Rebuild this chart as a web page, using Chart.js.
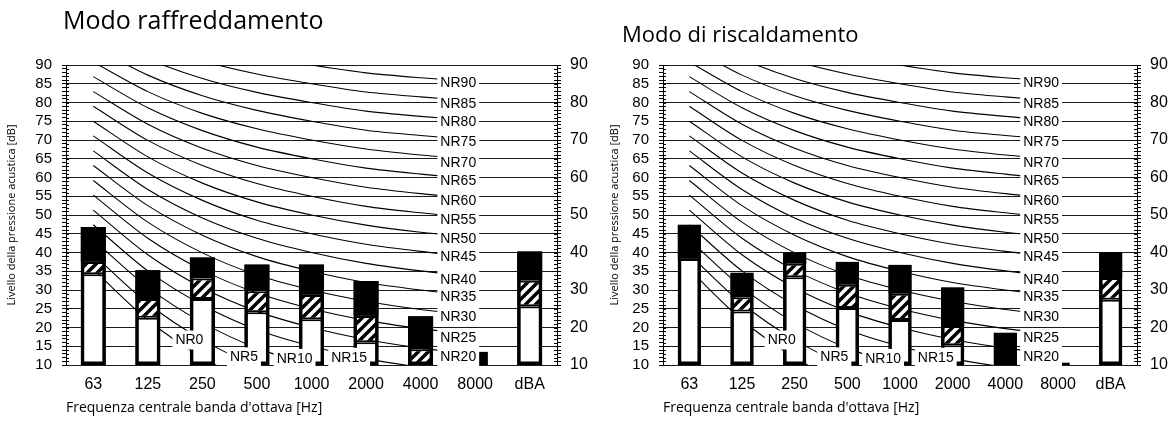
<!DOCTYPE html>
<html>
<head>
<meta charset="utf-8">
<script src="https://cdn.jsdelivr.net/npm/chart.js@4.4.1/dist/chart.umd.min.js"></script>
<style>
body { margin: 0; background: #fff; width: 1173px; height: 421px; position: relative; overflow: hidden; }
.panel { position: absolute; top: 0; height: 421px; }
#left { left: 0; width: 600px; }
#right { left: 590px; width: 583px; }
</style>
</head>
<body>
<div class="panel" id="left"><canvas id="cool"></canvas></div>
<div class="panel" id="right"><canvas id="heat"></canvas></div>
<script>
// Octave band categories
const categories = ['63', '125', '250', '500', '1000', '2000', '4000', '8000', 'dBA'];

// Cooling mode: top of white part, top of hatched part, total level [dB]
const coolWhite = [34.2, 22.6, 27.6, 24.1, 22.2, 16.1, 10, 10, 25.7];
const coolHatch = [37.5, 27.6, 33.1, 29.7, 28.7, 23.1, 14.2, 10, 32.5];
const coolTotal = [46.8, 35.3, 38.7, 36.8, 36.8, 32.4, 23.0, 13.5, 40.3];

// Heating mode
const heatWhite = [38.3, 24.3, 33.4, 25.2, 22.0, 15.3, 10, 10, 27.4];
const heatHatch = [38.3, 28.1, 37.0, 31.4, 29.0, 20.4, 10, 10, 33.2];
const heatTotal = [47.4, 34.6, 40.0, 37.5, 36.7, 30.7, 18.6, 10.6, 40.1];

// NR curves, 63 Hz .. 8000 Hz
const NR0  = [35.5, 22.0, 12.0, 4.8, 0, -3.5, -6.1, -8.0];
const NR5  = [39.5, 26.4, 16.7, 9.7, 5, 1.6, -1.0, -2.8];
const NR10 = [43.4, 30.7, 21.3, 14.5, 10, 6.7, 4.2, 2.4];
const NR15 = [47.4, 35.1, 26.0, 19.4, 15, 11.7, 9.4, 7.6];
const NR20 = [51.3, 39.4, 30.6, 24.3, 20, 16.8, 14.5, 12.8];
const NR25 = [55.3, 43.8, 35.3, 29.2, 25, 21.9, 19.7, 18.0];
const NR30 = [59.2, 48.1, 39.9, 34.0, 30, 27.0, 24.8, 23.2];
const NR35 = [63.2, 52.5, 44.6, 38.9, 35, 32.0, 30.0, 28.4];
const NR40 = [67.1, 56.8, 49.2, 43.8, 40, 37.1, 35.1, 33.6];
const NR45 = [71.1, 61.2, 53.9, 48.6, 45, 42.2, 40.3, 38.8];
const NR50 = [75.0, 65.5, 58.5, 53.5, 50, 47.3, 45.4, 44.0];
const NR55 = [79.0, 69.9, 63.2, 58.4, 55, 52.3, 50.6, 49.2];
const NR60 = [82.9, 74.2, 67.8, 63.2, 60, 57.4, 55.7, 54.4];
const NR65 = [86.9, 78.6, 72.5, 68.1, 65, 62.5, 60.9, 59.6];
const NR70 = [90.8, 82.9, 77.1, 73.0, 70, 67.6, 66.0, 64.8];
const NR75 = [94.8, 87.3, 81.8, 77.9, 75, 72.6, 71.2, 70.0];
const NR80 = [98.7, 91.6, 86.4, 82.7, 80, 77.7, 76.3, 75.2];
const NR85 = [102.7, 96.0, 91.1, 87.6, 85, 82.8, 81.5, 80.4];
const NR90 = [106.6, 100.3, 95.7, 92.5, 90, 87.9, 86.6, 85.6];
const nrCurves = [NR0, NR5, NR10, NR15, NR20, NR25, NR30, NR35, NR40, NR45,
                  NR50, NR55, NR60, NR65, NR70, NR75, NR80, NR85, NR90];

// NR labels: text, category the label sits left of, and level [dB]
const nrNames  = ['NR0', 'NR5', 'NR10', 'NR15', 'NR20', 'NR25', 'NR30', 'NR35', 'NR40', 'NR45',
                  'NR50', 'NR55', 'NR60', 'NR65', 'NR70', 'NR75', 'NR80', 'NR85', 'NR90'];
const nrAnchor = [2, 3, 4, 5, 7, 7, 7, 7, 7, 7, 7, 7, 7, 7, 7, 7, 7, 7, 7];
const nrLabelDb = [16.8, 12.3, 11.9, 12.2, 12.4, 17.3, 23.0, 28.4, 32.9, 38.9,
                   43.7, 49.0, 54.0, 59.2, 64.0, 69.8, 74.9, 79.8, 85.4];

const tickFont = '"Liberation Sans", Arial, sans-serif';
const textFont = '"Open Sans", sans-serif';

// Diagonal hatch used for the middle part of each bar
function makeHatch() {
    const c = document.createElement('canvas');
    c.width = c.height = 10;
    const g = c.getContext('2d');
    g.fillStyle = '#fff';
    g.fillRect(0, 0, 10, 10);
    g.strokeStyle = '#000';
    g.lineWidth = 3.5;
    g.beginPath();
    g.moveTo(-2, 12); g.lineTo(12, -2);
    g.moveTo(-2, 2); g.lineTo(2, -2);
    g.moveTo(8, 12); g.lineTo(12, 8);
    g.stroke();
    return g.createPattern(c, 'repeat');
}

// Draw the white-boxed NR labels over everything
const nrLabels = {
    id: 'nrLabels',
    afterDatasetsDraw(chart) {
        const {ctx, scales: {x, y}} = chart;
        ctx.save();
        ctx.font = '14px ' + tickFont;
        ctx.textAlign = 'right';
        ctx.textBaseline = 'middle';
        nrNames.forEach((t, i) => {
            const px = x.getPixelForValue(nrAnchor[i]) + 1;
            const py = y.getPixelForValue(nrLabelDb[i]);
            const w = ctx.measureText(t).width;
            ctx.fillStyle = '#fff';
            ctx.fillRect(px - w - 3, py - 9, w + 6, 19);
            ctx.fillStyle = '#000';
            ctx.fillText(t, px, py + 1);
        });
        ctx.restore();
    }
};

// Small tick marks on the inner side of both value axes
const innerTicks = {
    id: 'innerTicks',
    afterDraw(chart) {
        const {ctx, chartArea: a, scales: {y}} = chart;
        ctx.save();
        ctx.strokeStyle = '#000';
        ctx.lineWidth = 1;
        ctx.beginPath();
        for (let v = y.min; v <= y.max; v++) {
            const py = Math.round(y.getPixelForValue(v)) + 0.5;
            ctx.moveTo(a.left, py); ctx.lineTo(a.left + 3, py);
            ctx.moveTo(a.right - 3, py); ctx.lineTo(a.right, py);
        }
        ctx.stroke();
        ctx.restore();
    }
};

// Panel heading
const panelTitle = {
    id: 'panelTitle',
    afterDraw(chart, args, opts) {
        const ctx = chart.ctx;
        ctx.save();
        ctx.font = opts.size + 'px ' + textFont;
        ctx.fillStyle = '#000';
        ctx.textBaseline = 'middle';
        ctx.fillText(opts.text, chart.chartArea.left + opts.dx, opts.y);
        ctx.restore();
    }
};

function buildChart(id, title, titleSize, titleDx, titleY, white, hatch, total, barPct, leftW, rightW, yTitlePad) {
    const hatchFill = makeHatch();
    const datasets = [];

    nrCurves.forEach(vals => {
        datasets.push({
            type: 'line', data: vals, borderColor: '#000', borderWidth: 1.1,
            pointRadius: 0, tension: 0.3, fill: false, order: 10
        });
    });

    const base = 10;
    datasets.push({
        type: 'bar', stack: 's', order: 3,
        data: white.map(v => v > base ? [base, v] : null),
        backgroundColor: '#fff', borderColor: '#000', borderWidth: 2, borderSkipped: false
    });
    datasets.push({
        type: 'bar', stack: 's', order: 3,
        data: hatch.map((v, i) => v > white[i] ? [white[i], v] : null),
        backgroundColor: hatchFill, borderColor: '#000', borderWidth: 2, borderSkipped: false
    });
    datasets.push({
        type: 'bar', stack: 's', order: 3,
        data: total.map((v, i) => v > hatch[i] ? [hatch[i], v] : null),
        backgroundColor: '#000', borderColor: '#000', borderWidth: 0
    });
    datasets.push({
        type: 'bar', stack: 's', order: 1,
        data: total.map(v => [base, v]),
        backgroundColor: 'rgba(0,0,0,0)', borderColor: '#000', borderWidth: 3.5, borderSkipped: false
    });
    datasets.forEach(d => {
        if (d.type === 'bar') { d.barPercentage = barPct; d.categoryPercentage = 1; }
    });

    return new Chart(document.getElementById(id), {
        data: { labels: categories, datasets: datasets },
        plugins: [nrLabels, innerTicks, panelTitle],
        options: {
            responsive: true,
            maintainAspectRatio: false,
            animation: false,
            layout: { padding: { top: 65, left: 0, right: 0, bottom: 0 } },
            plugins: {
                legend: { display: false },
                tooltip: { enabled: false },
                panelTitle: { text: title, size: titleSize, dx: titleDx, y: titleY }
            },
            scales: {
                x: {
                    stacked: true,
                    grid: { display: false, drawTicks: false },
                    border: { display: false },
                    ticks: { font: { family: tickFont, size: 16 }, color: '#000', padding: 10 },
                    title: {
                        display: true, text: "Frequenza centrale banda d'ottava [Hz]", align: 'start',
                        font: { family: textFont, size: 14 }, color: '#000', padding: { top: 0, bottom: 5 }
                    },
                    afterFit(s) { s.height = 56; }
                },
                y: {
                    position: 'left', min: 10, max: 90, stacked: false,
                    ticks: {
                        stepSize: 1, autoSkip: false, padding: 10,
                        font: { family: tickFont, size: 15 }, color: '#000',
                        callback: v => v % 5 === 0 ? v : ''
                    },
                    grid: {
                        color: c => c.tick && c.tick.value % 5 === 0 ? '#1a1a1a' : 'rgba(0,0,0,0)',
                        tickColor: '#000', tickLength: 4, lineWidth: 1
                    },
                    border: { color: '#000', width: 1 },
                    title: {
                        display: true, text: 'Livello della pressione acustica [dB]',
                        font: { family: textFont, size: 11 }, color: '#000', padding: { top: yTitlePad }
                    },
                    afterFit(s) { s.width = leftW; }
                },
                y2: {
                    position: 'right', min: 10, max: 90,
                    ticks: {
                        stepSize: 1, autoSkip: false, padding: 9,
                        font: { family: tickFont, size: 16 }, color: '#000',
                        callback: v => v % 10 === 0 ? v : ''
                    },
                    grid: { drawOnChartArea: false, color: '#000', tickLength: 4 },
                    border: { color: '#000', width: 1 },
                    afterFit(s) { s.width = rightW; }
                }
            }
        }
    });
}

buildChart('cool', 'Modo raffreddamento', 25, -3, 22, coolWhite, coolHatch, coolTotal, 0.46, 66, 43, 5);
buildChart('heat', 'Modo di riscaldamento', 22, -41, 36, heatWhite, heatHatch, heatTotal, 0.44, 73, 36, 18);
</script>
</body>
</html>
